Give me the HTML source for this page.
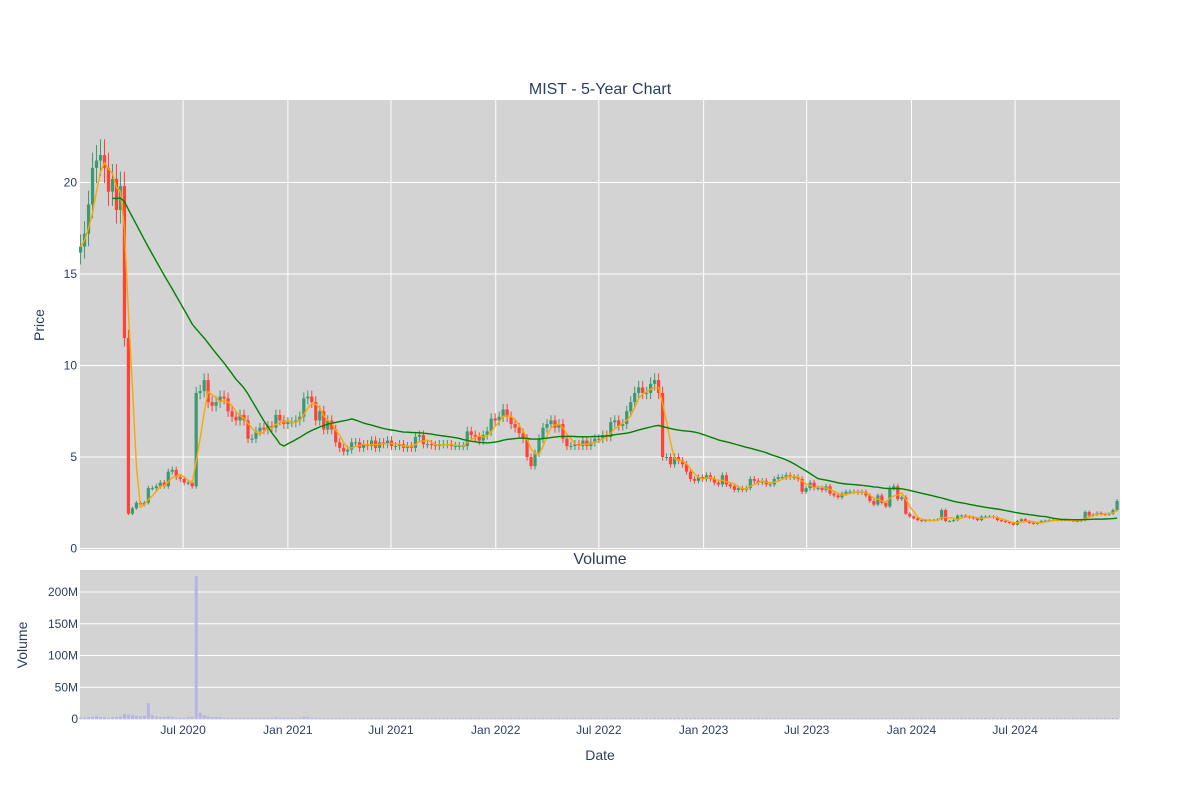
<!DOCTYPE html>
<html><head><meta charset="utf-8"><style>
body{margin:0;background:#fff;font-family:"Liberation Sans",sans-serif}
svg text{font-family:"Liberation Sans",sans-serif;fill:#2a3f5f}
</style></head><body>
<svg id="chart" width="1200" height="800" xmlns="http://www.w3.org/2000/svg">
<text x="600" y="94" text-anchor="middle" font-size="16">MIST - 5-Year Chart</text>
<rect x="80" y="100" width="1040" height="450" fill="#d3d3d3"/>
<text x="600" y="564" text-anchor="middle" font-size="16">Volume</text>
<rect x="80" y="570" width="1040" height="150" fill="#d3d3d3"/>
<g id="grid"></g><g id="vol"></g><g id="candles"></g><g id="mas"></g><g id="axes"></g>
<text transform="translate(44,325) rotate(-90)" text-anchor="middle" font-size="14">Price</text>
<text transform="translate(27,645) rotate(-90)" text-anchor="middle" font-size="14">Volume</text>
<text x="600" y="760" text-anchor="middle" font-size="14">Date</text>
</svg>
<script>
const startDate = "2020-01-03";
const priorCloses = [19,19,19,19,19,19,19,19,19,19,19,19,19,19,19,19,19,19,19,19,19,19,19,19,19,19,19,19,19,19,19];
const closes = [16.5,17.2,18.8,20.8,21.2,21.5,20.8,19.5,20.2,18.5,19.8,11.5,1.9,2.2,2.5,2.4,2.5,3.3,3.3,3.4,3.6,3.4,4.2,4.3,3.9,3.8,3.6,3.6,3.4,8.5,
8.6,9.2,8.0,7.8,8.0,8.3,8.2,7.5,7.2,7.0,7.3,7.0,6.0,6.0,6.4,6.6,6.5,6.7,6.6,7.3,7.0,6.8,6.9,6.9,7.0,7.2,8.2,8.3,8.0,7.0,
7.5,6.5,7.0,6.5,5.8,5.5,5.3,5.4,5.8,5.8,5.5,5.7,5.6,5.9,5.5,5.8,5.7,5.9,5.6,5.6,5.7,5.5,5.6,5.5,6.1,6.2,5.7,5.7,5.65,5.6,
5.7,5.7,5.7,5.6,5.6,5.6,5.6,6.4,6.2,6.1,5.9,6.2,6.4,7.1,7.0,7.2,7.6,7.2,6.8,6.6,6.3,6.0,5.0,4.5,5.2,6.0,6.6,6.8,7.0,6.6,
6.8,6.0,5.6,5.6,5.7,5.6,5.9,5.6,5.8,6.0,6.0,6.2,6.1,6.9,7.0,6.7,6.8,7.5,8.0,8.5,8.8,8.5,8.5,9.0,9.2,8.5,5.0,5.0,4.6,5.0,
4.8,4.6,4.2,3.8,3.7,3.9,3.8,4.0,3.8,3.6,3.5,4.0,3.5,3.4,3.2,3.3,3.2,3.3,3.8,3.7,3.6,3.7,3.5,3.5,3.8,3.9,3.9,4.0,3.9,3.9,
3.8,3.1,3.3,3.6,3.3,3.3,3.2,3.4,3.0,2.9,2.8,3.0,3.1,3.1,3.1,3.05,3.1,2.9,2.6,2.4,2.9,2.5,2.3,3.3,3.4,2.7,2.8,1.9,1.75,1.65,
1.55,1.5,1.55,1.55,1.55,1.6,2.1,1.5,1.5,1.55,1.8,1.8,1.75,1.7,1.65,1.55,1.75,1.75,1.75,1.7,1.55,1.5,1.45,1.4,1.3,1.5,1.6,1.5,1.4,1.35,
1.42,1.5,1.52,1.55,1.56,1.55,1.56,1.56,1.55,1.5,1.5,1.55,2.0,1.8,1.85,1.95,1.88,1.85,1.9,2.1,2.6];
const volumesM = [2,2,3,3,4,3,3,2,3,3,4,8,7,6,5,4,5,25,6,4,3,3,4,3,2,2,2,3,3,225,
10,6,4,3,3,3,2,2,2,2,2,2,2,2,2,2,2,2,2,3,2,2,2,2,2,2,3,3,2,2];
const priceTicks = [0,5,10,15,20];
const volTicks = [0,50,100,150,200];
const volTickLabels = ["0","50M","100M","150M","200M"];
const dateTicks = ["2020-07-01","2021-01-01","2021-07-01","2022-01-01","2022-07-01","2023-01-01","2023-07-01","2024-01-01","2024-07-01"];
const dateTickLabels = ["Jul 2020","Jan 2021","Jul 2021","Jan 2022","Jul 2022","Jan 2023","Jul 2023","Jan 2024","Jul 2024"];

const NS="http://www.w3.org/2000/svg";
const t0=Date.parse("2020-01-02"), DAY=86400000;
function xOf(d){return 80+((Date.parse(d)-t0)/DAY)*0.5695;}
function xOfIdx(i){return xOf(startDate)+i*7*0.5695;}
function yP(v){return 548.5-v*18.3;}
function yV(m){return 719-m*0.635;}
function mk(tag,attrs,parent){const e=document.createElementNS(NS,tag);for(const k in attrs)e.setAttribute(k,attrs[k]);parent.appendChild(e);return e;}
const grid=document.getElementById('grid'),axes=document.getElementById('axes');
priceTicks.forEach(v=>{
  const l=mk('line',{x1:80,x2:1120,y1:yP(v),y2:yP(v),stroke:'#fff','stroke-width':1},grid);
  
  
  const t=mk('text',{x:77,y:yP(v)+4,'text-anchor':'end','font-size':12},axes);t.textContent=v;
  
  
});
volTicks.forEach((v,i)=>{
  const l=mk('line',{x1:80,x2:1120,y1:yV(v),y2:yV(v),stroke:'#fff','stroke-width':1},grid);
  
  
  const t=mk('text',{x:78,y:yV(v)+4,'text-anchor':'end','font-size':12},axes);t.textContent=volTickLabels[i];
  
  
});
dateTicks.forEach((d,i)=>{
  const x=xOf(d);
  const l=mk('line',{x1:x,x2:x,y1:100,y2:550,stroke:'#fff','stroke-width':1},grid);
  
  
  const t=mk('text',{x:x,y:734,'text-anchor':'middle','font-size':12},axes);t.textContent=dateTickLabels[i];
  
  
});
const vol=document.getElementById('vol');
closes.forEach((c,i)=>{
  const m=i<volumesM.length?volumesM[i]:1.5;
  const x=xOfIdx(i);
  const r=mk('rect',{x:x-1.5,y:yV(m),width:3,height:Math.max(0.5,719-yV(m)),fill:'#b4b4e6'},vol);
  
  
});
const cg=document.getElementById('candles');
closes.forEach((c,i)=>{
  const o=i>0?closes[i-1]:c*0.98;
  const x=xOfIdx(i);
  const up=c>=o, col=up?'#3D9970':'#FF4136';
  const hi=Math.max(o,c)*1.04, lo=Math.min(o,c)*0.96;
  const w=mk('line',{x1:x,x2:x,y1:yP(hi),y2:yP(lo),stroke:col,'stroke-width':1},cg);
  
  
  const top=yP(Math.max(o,c)),bot=yP(Math.min(o,c));
  const b=mk('rect',{x:x-1.6,y:top,width:3.2,height:Math.max(1,bot-top),fill:col},cg);
  
  
});
function ma(series,offset,win,startIdx){return closes.map((c,i)=>{if(i<startIdx)return null;const j=i+offset;const s=Math.max(0,j-win+1);let t=0;for(let k=s;k<=j;k++)t+=series[k];return t/(j-s+1);});}
function path(vals,col,name){
  let d='';vals.forEach((v,i)=>{if(v==null)return;d+=(d?'L':'M')+xOfIdx(i).toFixed(1)+','+yP(v).toFixed(1);});
  const p=mk('path',{d:d,fill:'none',stroke:col,'stroke-width':1.4},document.getElementById('mas'));
  
  
}
const full=priorCloses.concat(closes);
path(ma(closes,0,4,0),'#FFA500','ma-short-line');
path(ma(full,priorCloses.length,40,8),'#008000','ma-long-line');
</script>
</body></html>
